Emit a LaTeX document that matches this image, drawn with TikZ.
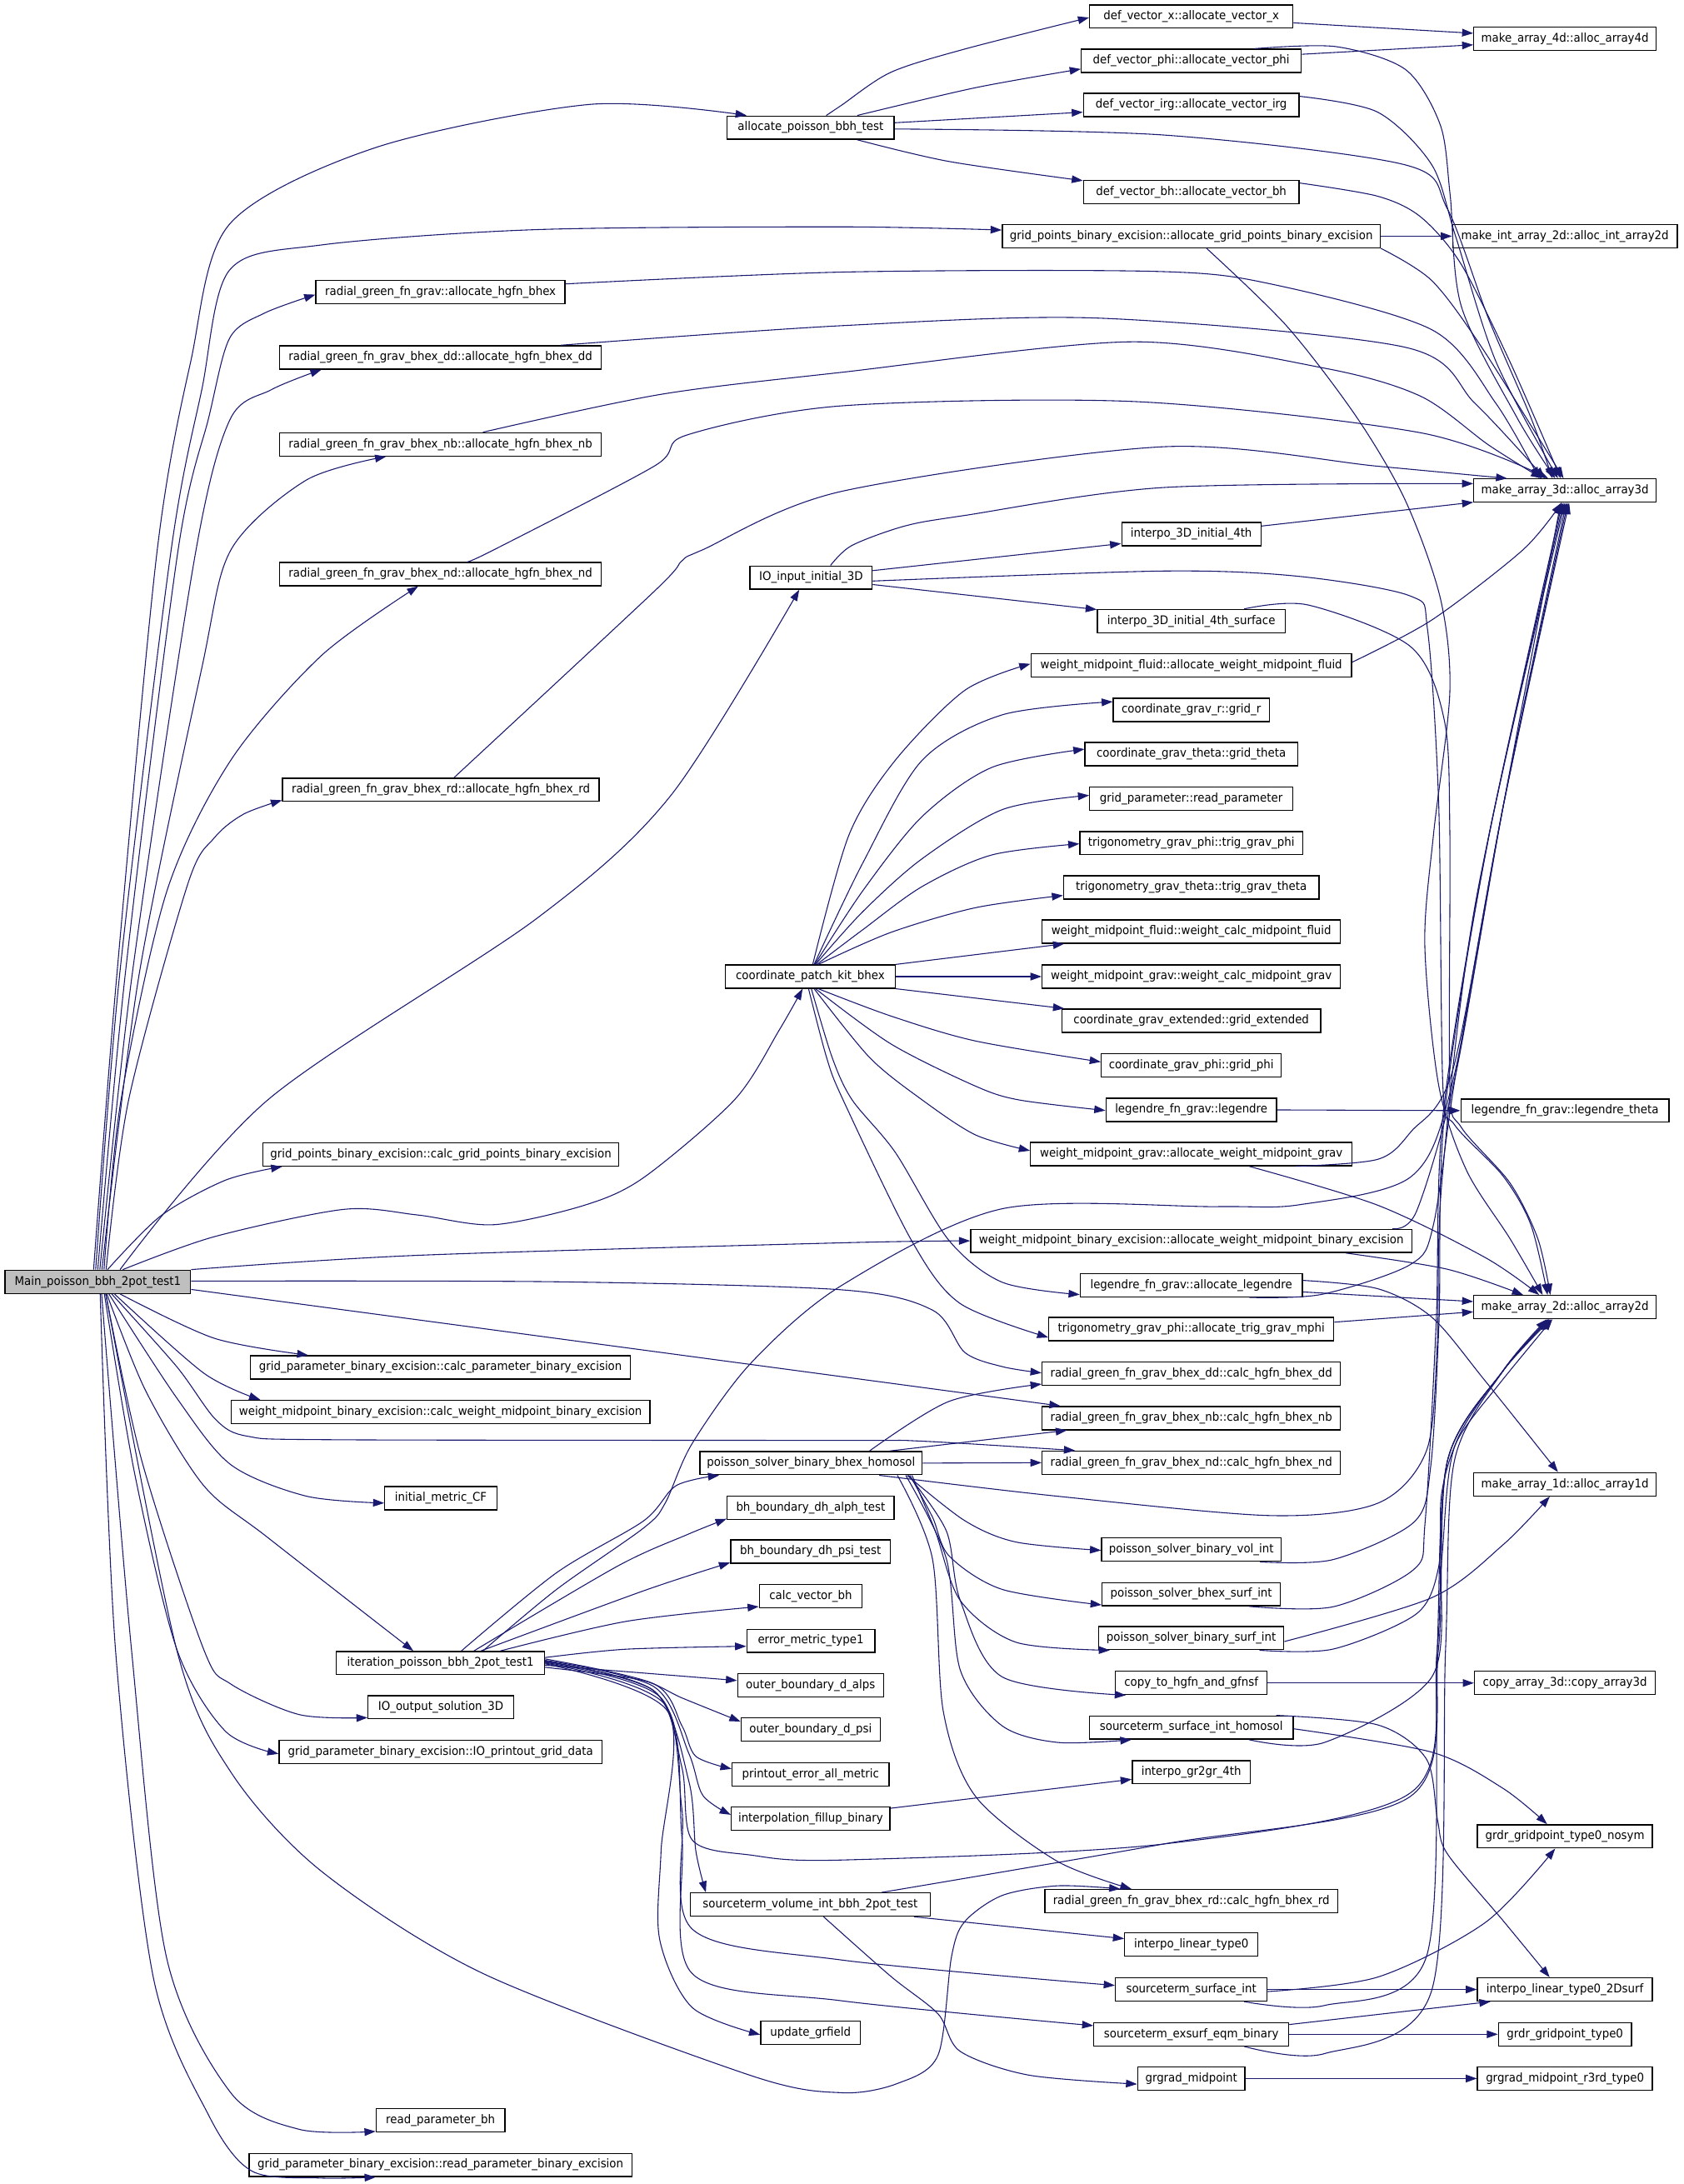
\documentclass[tikz,border=0pt]{standalone}
\usepackage{fontspec}
\setmainfont{DejaVu Sans}[FakeStretch=0.93]
\usetikzlibrary{arrows.meta}
\definecolor{edgec}{HTML}{191970}
\definecolor{mainfill}{HTML}{BFBFBF}
\begin{document}
\begin{tikzpicture}[x=1pt,y=-1pt,
  fn/.style={draw=black, fill=white, line width=0.8pt, minimum height=16.7pt, inner sep=0pt, font=\fontsize{8.6pt}{10pt}\selectfont, anchor=center},
  e/.style={draw=edgec, line width=0.65pt, -{Triangle[length=8pt,width=5.5pt]}}]
\useasboundingbox (0,0) rectangle (1210,1569.3);
% ---------- nodes ----------
\node[fn,fill=mainfill,minimum width=133.5pt] (main) at (70.25,921) {Main\_poisson\_bbh\_2pot\_test1};
% column 2
\node[fn,minimum width=179pt] (ra) at (316.5,210) {radial\_green\_fn\_grav::allocate\_hgfn\_bhex};
\node[fn,minimum width=231pt] (dda) at (316.5,256.8) {radial\_green\_fn\_grav\_bhex\_dd::allocate\_hgfn\_bhex\_dd};
\node[fn,minimum width=231pt] (nba) at (316.5,319.3) {radial\_green\_fn\_grav\_bhex\_nb::allocate\_hgfn\_bhex\_nb};
\node[fn,minimum width=231pt] (nda) at (316.5,412.5) {radial\_green\_fn\_grav\_bhex\_nd::allocate\_hgfn\_bhex\_nd};
\node[fn,minimum width=227.5pt] (rda) at (316.75,567.5) {radial\_green\_fn\_grav\_bhex\_rd::allocate\_hgfn\_bhex\_rd};
\node[fn,minimum width=255.5pt] (cgp) at (316.75,829.5) {grid\_points\_binary\_excision::calc\_grid\_points\_binary\_excision};
\node[fn,minimum width=273pt] (cpb) at (316.5,982.5) {grid\_parameter\_binary\_excision::calc\_parameter\_binary\_excision};
\node[fn,minimum width=301pt] (cwm) at (316.5,1014.5) {weight\_midpoint\_binary\_excision::calc\_weight\_midpoint\_binary\_excision};
\node[fn,minimum width=80.5pt] (imc) at (316.75,1076.5) {initial\_metric\_CF};
\node[fn,minimum width=149.6pt] (it) at (316.5,1195) {iteration\_poisson\_bbh\_2pot\_test1};
\node[fn,minimum width=104.5pt] (ioo) at (316.75,1226.7) {IO\_output\_solution\_3D};
\node[fn,minimum width=232pt] (iop) at (316.55,1258.7) {grid\_parameter\_binary\_excision::IO\_printout\_grid\_data};
\node[fn,minimum width=92.5pt] (rpb) at (316.55,1523.5) {read\_parameter\_bh};
\node[fn,minimum width=275pt] (rpe) at (316.5,1555.6) {grid\_parameter\_binary\_excision::read\_parameter\_binary\_excision};
% column 3
\node[fn,minimum width=120pt] (ap) at (582.5,91.7) {allocate\_poisson\_bbh\_test};
\node[fn,minimum width=87.7pt] (io) at (582.8,415) {IO\_input\_initial\_3D};
\node[fn,minimum width=122.3pt] (cp) at (582.2,701.7) {coordinate\_patch\_kit\_bhex};
\node[fn,minimum width=159.6pt] (ps) at (582.8,1051.3) {poisson\_solver\_binary\_bhex\_homosol};
\node[fn,minimum width=120pt] (bha) at (582.5,1083.3) {bh\_boundary\_dh\_alph\_test};
\node[fn,minimum width=114.8pt] (bhp) at (582.4,1114.8) {bh\_boundary\_dh\_psi\_test};
\node[fn,minimum width=73.8pt] (cvb) at (582.5,1147) {calc\_vector\_bh};
\node[fn,minimum width=92pt] (em) at (582.6,1179) {error\_metric\_type1};
\node[fn,minimum width=104.8pt] (oba) at (582.4,1211) {outer\_boundary\_d\_alps};
\node[fn,minimum width=100pt] (obp) at (582.5,1242.6) {outer\_boundary\_d\_psi};
\node[fn,minimum width=112.7pt] (pe) at (582.4,1274.9) {printout\_error\_all\_metric};
\node[fn,minimum width=114pt] (ifb) at (582.5,1306.6) {interpolation\_fillup\_binary};
\node[fn,minimum width=172.3pt] (sv) at (582.2,1368.5) {sourceterm\_volume\_int\_bbh\_2pot\_test};
\node[fn,minimum width=71.5pt] (ug) at (582.4,1460.5) {update\_grfield};
% column 4
\node[fn,minimum width=146pt] (dvx) at (856,11.9) {def\_vector\_x::allocate\_vector\_x};
\node[fn,minimum width=158pt] (dvp) at (856,43.7) {def\_vector\_phi::allocate\_vector\_phi};
\node[fn,minimum width=155pt] (dvi) at (856,75.5) {def\_vector\_irg::allocate\_vector\_irg};
\node[fn,minimum width=155pt] (dvb) at (856,138) {def\_vector\_bh::allocate\_vector\_bh};
\node[fn,minimum width=271.6pt] (gpa) at (856,169.7) {grid\_points\_binary\_excision::allocate\_grid\_points\_binary\_excision};
\node[fn,minimum width=100pt] (i4) at (856,383.8) {interpo\_3D\_initial\_4th};
\node[fn,minimum width=135pt] (i4s) at (856,446.3) {interpo\_3D\_initial\_4th\_surface};
\node[fn,minimum width=230.4pt] (wmf) at (856,478.2) {weight\_midpoint\_fluid::allocate\_weight\_midpoint\_fluid};
\node[fn,minimum width=112pt] (gr) at (856,510.1) {coordinate\_grav\_r::grid\_r};
\node[fn,minimum width=152.7pt] (gt) at (856,541.8) {coordinate\_grav\_theta::grid\_theta};
\node[fn,minimum width=146pt] (rp) at (856,574) {grid\_parameter::read\_parameter};
\node[fn,minimum width=160pt] (tp) at (856,605.8) {trigonometry\_grav\_phi::trig\_grav\_phi};
\node[fn,minimum width=183.5pt] (tt) at (856,637.7) {trigonometry\_grav\_theta::trig\_grav\_theta};
\node[fn,minimum width=214.3pt] (wcf) at (856,669.4) {weight\_midpoint\_fluid::weight\_calc\_midpoint\_fluid};
\node[fn,minimum width=214.3pt] (wcg) at (856,701.7) {weight\_midpoint\_grav::weight\_calc\_midpoint\_grav};
\node[fn,minimum width=185.8pt] (ge) at (856,733.4) {coordinate\_grav\_extended::grid\_extended};
\node[fn,minimum width=129.2pt] (gph) at (856,765.6) {coordinate\_grav\_phi::grid\_phi};
\node[fn,minimum width=122.6pt] (leg) at (856,797.5) {legendre\_fn\_grav::legendre};
\node[fn,minimum width=231pt] (wag) at (856,829.3) {weight\_midpoint\_grav::allocate\_weight\_midpoint\_grav};
\node[fn,minimum width=317pt] (wbe) at (856,891.6) {weight\_midpoint\_binary\_excision::allocate\_weight\_midpoint\_binary\_excision};
\node[fn,minimum width=159.5pt] (al) at (856,923.5) {legendre\_fn\_grav::allocate\_legendre};
\node[fn,minimum width=204.7pt] (tm) at (856,955) {trigonometry\_grav\_phi::allocate\_trig\_grav\_mphi};
\node[fn,minimum width=214.3pt] (ddc) at (856,987) {radial\_green\_fn\_grav\_bhex\_dd::calc\_hgfn\_bhex\_dd};
\node[fn,minimum width=214.3pt] (nbc) at (856,1019) {radial\_green\_fn\_grav\_bhex\_nb::calc\_hgfn\_bhex\_nb};
\node[fn,minimum width=214.3pt] (ndc) at (856,1051) {radial\_green\_fn\_grav\_bhex\_nd::calc\_hgfn\_bhex\_nd};
\node[fn,minimum width=128.8pt] (vi) at (856,1113.5) {poisson\_solver\_binary\_vol\_int};
\node[fn,minimum width=128pt] (bx) at (856,1145.5) {poisson\_solver\_bhex\_surf\_int};
\node[fn,minimum width=133pt] (bs) at (856,1177) {poisson\_solver\_binary\_surf\_int};
\node[fn,minimum width=109pt] (ct) at (856,1209.3) {copy\_to\_hgfn\_and\_gfnsf};
\node[fn,minimum width=146.4pt] (hs) at (856,1241.3) {sourceterm\_surface\_int\_homosol};
\node[fn,minimum width=84.8pt] (g2) at (856,1273.4) {interpo\_gr2gr\_4th};
\node[fn,minimum width=210.2pt] (rdc) at (856,1366) {radial\_green\_fn\_grav\_bhex\_rd::calc\_hgfn\_bhex\_rd};
\node[fn,minimum width=95.7pt] (ilt) at (856,1397.3) {interpo\_linear\_type0};
\node[fn,minimum width=109pt] (ss) at (856,1429.5) {sourceterm\_surface\_int};
\node[fn,minimum width=140pt] (ex) at (856,1461.7) {sourceterm\_exsurf\_eqm\_binary};
\node[fn,minimum width=77pt] (gm) at (856,1493.5) {grgrad\_midpoint};
% column 5
\node[fn,minimum width=131pt] (m4) at (1124.5,27.9) {make\_array\_4d::alloc\_array4d};
\node[fn,minimum width=161.5pt] (mi2) at (1124.5,169.7) {make\_int\_array\_2d::alloc\_int\_array2d};
\node[fn,minimum width=131pt] (m3) at (1124.5,352.5) {make\_array\_3d::alloc\_array3d};
\node[fn,minimum width=149.6pt] (lt) at (1124.5,798) {legendre\_fn\_grav::legendre\_theta};
\node[fn,minimum width=131pt] (m2) at (1124.5,939.2) {make\_array\_2d::alloc\_array2d};
\node[fn,minimum width=131pt] (m1) at (1124.5,1066.5) {make\_array\_1d::alloc\_array1d};
\node[fn,minimum width=130pt] (ca) at (1124.5,1209.3) {copy\_array\_3d::copy\_array3d};
\node[fn,minimum width=125.7pt] (ns) at (1124.5,1319.5) {grdr\_gridpoint\_type0\_nosym};
\node[fn,minimum width=125.7pt] (l2) at (1124.5,1429.5) {interpo\_linear\_type0\_2Dsurf};
\node[fn,minimum width=95.6pt] (g0) at (1124.5,1461.7) {grdr\_gridpoint\_type0};
\node[fn,minimum width=125.7pt] (r3) at (1124.5,1493.5) {grgrad\_midpoint\_r3rd\_type0};
% ---------- edges from Main ----------
\draw[e] plot[smooth] coordinates {([xshift=-3pt]main.north) (84,700) (113,395) (137,260) (165,161) (270,106) (424,75) ([xshift=-46pt]ap.north)};
\draw[e] plot[smooth] coordinates {([xshift=-1.5pt]main.north) (86,700) (123,395) (145,280) (165,194) (231,176) (385,165) (605,163) ([yshift=4.4pt]gpa.west)};
\draw[e] plot[smooth] coordinates {(main.north) (90,700) (128,395) (150,300) (165,243) (190,225) ([yshift=-1.7pt]ra.west)};
\draw[e] plot[smooth] coordinates {([xshift=1.5pt]main.north) (95,700) (140,400) (165,302) (195,280) ([xshift=-85.5pt]dda.south)};
\draw[e] plot[smooth] coordinates {([xshift=3pt]main.north) (100,700) (145,480) (166,395) (220,345) ([xshift=-39pt]nba.south)};
\draw[e] plot[smooth] coordinates {([xshift=4.5pt]main.north) (87,790) (120,640) (166,546) (231,471) ([xshift=-16pt]nda.south)};
\draw[e] plot[smooth] coordinates {([xshift=6pt]main.north) (92.5,790) (135,635) (154,602) (175,585) ([yshift=-7.5pt]rda.west)};
\draw[e] plot[smooth] coordinates {([xshift=16pt]main.north) (192.8,790) (385.6,660) (482,571.6) ([xshift=-8.5pt]io.south)};
\draw[e] plot[smooth] coordinates {([xshift=7pt]main.north) (115.6,873.6) (162,848) ([xshift=-114pt]cgp.south)};
\draw[e] plot[smooth] coordinates {([xshift=18pt]main.north) (154,888.6) (246.8,869) (300,873) (354.7,880) (420,866) (462.7,846) (528,790) (560,740) ([xshift=-5.5pt]cp.south)};
\draw[e] plot[smooth] coordinates {(main.north east) (300,902) (605,893) (wbe.west)};
\draw[e] plot[smooth] coordinates {([yshift=0.5pt]main.east) (400,921) (605,926.8) (670.3,941.5) (693.3,971.8) (720.3,982) ([yshift=0.5pt]ddc.west)};
\draw[e] ([yshift=-5.5pt]main.east) -- ([xshift=-94pt]nbc.north);
\draw[e] plot[smooth] coordinates {([xshift=10pt]main.south) (127,982) (155,1020) (178,1032) (240,1034.5) (605,1035) (662,1035.5) ([xshift=-83.5pt]ndc.north)};
\draw[e] plot[smooth] coordinates {([xshift=16pt]main.south) (154,961.6) ([xshift=-95pt]cpb.north)};
\draw[e] plot[smooth] coordinates {([xshift=12pt]main.south) (146.5,986.7) ([xshift=-129.5pt]cwm.north)};
\draw[e] plot[smooth] coordinates {([xshift=8pt]main.south) (127,1004.5) (165.8,1052.4) (220,1075) ([yshift=-3.5pt]imc.west)};
\draw[e] plot[smooth] coordinates {([xshift=6.5pt]main.south) (105,1000) (146.5,1067.6) (192.7,1105) ([xshift=-19.5pt]it.north)};
\draw[e] plot[smooth] coordinates {([xshift=5.75pt]main.south) (102,1050) (146.5,1185.5) (165.8,1210) (215,1232) ([yshift=-7.5pt]ioo.west)};
\draw[e] plot[smooth] coordinates {([xshift=4.75pt]main.south) (97,1060) (127.2,1185.5) (162,1244) ([yshift=-1.5pt]iop.west)};
\draw[e] plot[smooth] coordinates {([xshift=2.75pt]main.south) (94.5,1185.5) (119.5,1405.8) (165.8,1503.7) (215,1530) ([yshift=-8pt]rpb.west)};
\draw[e] plot[smooth] coordinates {([xshift=1.75pt]main.south) (83,1185.5) (110,1420) (150,1520) (181,1560) (230,1565) ([xshift=-46.5pt]rpe.south)};
\draw[e] plot[smooth] coordinates {([xshift=5.75pt]main.south) (127,1185.5) (166,1273.5) (231,1344.6) (347,1418) (540,1491.5) (605,1503.7) (645,1497) (674,1476.8) (683.7,1406) (693,1381) (720,1362) (760,1355) ([xshift=-51pt]rdc.north)};
% ---------- allocate_poisson_bbh_test ----------
\draw[e] plot[smooth] coordinates {([xshift=11.2pt]ap.north) (604.7,75.6) (640,52) (693,35.3) ([yshift=-0.7pt]dvx.west)};
\draw[e] plot[smooth] coordinates {([xshift=33.5pt]ap.north) (701,63) ([yshift=-5.9pt]dvp.west)};
\draw[e] ([yshift=3.5pt]ap.east) -- ([yshift=-5.1pt]dvi.west);
\draw[e] plot[smooth] coordinates {([yshift=-1pt]ap.east) (836,97) (1009.5,118.4) (1040,150) (1070,230) (1100,300) ([xshift=-9pt]m3.north)};
\draw[e] plot[smooth] coordinates {([xshift=33.5pt]ap.south) (681.8,116) ([yshift=8.2pt]dvb.west)};
\draw[e] ([yshift=-4.5pt]dvx.east) -- ([yshift=4pt]m4.west);
\draw[e] ([yshift=4.7pt]dvp.east) -- ([yshift=-4.3pt]m4.west);
\draw[e] plot[smooth] coordinates {([xshift=45.6pt]dvp.north) (960,33.5) (1010,50) (1035,90) (1042,140) (1050,220) (1090,300) ([xshift=-7pt]m3.north)};
\draw[e] plot[smooth] coordinates {([yshift=6.3pt]dvi.east) (990,80.6) (1028.8,118.4) (1046,170) (1075,260) ([xshift=-5pt]m3.north)};
\draw[e] plot[smooth] coordinates {([yshift=6.5pt]dvb.east) (990,141) (1021,156) (1050,190) (1085,260) ([xshift=-3pt]m3.north)};
\draw[e] (gpa.east) -- (mi2.west);
\draw[e] plot[smooth] coordinates {(gpa.south east) (1028.8,201.6) (1065,250) ([xshift=-1pt]m3.north)};
\draw[e] plot[smooth] coordinates {([xshift=11pt]gpa.south) (924.7,234.4) (975,300) (1010,360) (1035,430) (1041.8,497) (1030,600) (1023.8,679) (1033.8,780) (1053.8,841) (1085,890) ([xshift=-16pt]m2.north)};
% ---------- radial allocators -> make_array_3d ----------
\draw[e] plot[smooth] coordinates {([yshift=6pt]ra.east) (605,195.5) (830,195) (913,204) (1029,237) (1075,290) ([xshift=-18.5pt]m3.north)};
\draw[e] plot[smooth] coordinates {([xshift=86.5pt]dda.north) (605,234) (790,228.6) (1009.6,249.5) (1060,290) ([xshift=-14.5pt]m3.north)};
\draw[e] plot[smooth] coordinates {([xshift=30.5pt]nba.north) (474,283.5) (605,267.5) (813,245.6) (952,264.6) (1021,284.8) (1070,320) ([xshift=-16.5pt]m3.north)};
\draw[e] plot[smooth] coordinates {([xshift=19pt]nda.north) (355,395) (470,335) (493.5,312.6) (605,291.6) (816.8,288.6) (1021,311) ([xshift=-12pt]m3.north)};
\draw[e] plot[smooth] coordinates {([xshift=9.5pt]rda.north) (470,425) (490,403) (505,395) (605,353) (836,321) (990,335) ([xshift=-41.5pt]m3.north)};
% ---------- IO_input_initial_3D ----------
\draw[e] plot[smooth] coordinates {([xshift=14pt]io.north) (612,392) (650,378) (693,370.4) (836,350.3) ([yshift=5pt]m3.west)};
\draw[e] ([yshift=5pt]io.east) -- ([yshift=-6.8pt]i4.west);
\draw[e] ([yshift=-5pt]io.east) -- ([yshift=8.3pt]i4s.west);
\draw[e] plot[smooth] coordinates {([yshift=-2.5pt]io.east) (836,410.3) (934,414.2) (1013.8,428.4) (1025.8,452.7) (1033.8,578.2) (1036.8,780.6) (1045,808) (1080,845) (1100,880) ([xshift=-12.5pt]m2.north)};
\draw[e] ([yshift=5.8pt]i4.east) -- ([yshift=-8.4pt]m3.west);
\draw[e] plot[smooth] coordinates {([xshift=38pt]i4s.north) (940,434.7) (1013.8,464.8) (1037.8,517.5) (1041.8,598.4) (1041.8,780.6) (1050,810) (1085,850) (1105,890) ([xshift=-10.5pt]m2.north)};
\draw[e] plot[smooth] coordinates {([yshift=2.4pt]wmf.east) (1028.8,445.5) (1094.4,395) ([xshift=-2.5pt]m3.south)};
% ---------- coordinate_patch_kit_bhex ----------
\draw[e] plot[smooth] coordinates {([xshift=1.8pt]cp.north) (610,600) (643.3,546.3) (693.3,496) ([yshift=1.2pt]wmf.west)};
\draw[e] plot[smooth] coordinates {([xshift=2.8pt]cp.north) (620,620) (662.6,546.3) (720.3,513.6) ([yshift=5.9pt]gr.west)};
\draw[e] plot[smooth] coordinates {([xshift=3.3pt]cp.north) (620,640) (662.6,586.7) (712.7,551.4) ([yshift=3.5pt]gt.west)};
\draw[e] plot[smooth] coordinates {([xshift=3.8pt]cp.north) (620,655) (662.6,617) (720.3,581.7) ([yshift=2.5pt]rp.west)};
\draw[e] plot[smooth] coordinates {([xshift=4.8pt]cp.north) (620,668) (662.6,637) (712.7,614.3) ([yshift=-0.5pt]tp.west)};
\draw[e] plot[smooth] coordinates {([xshift=5.8pt]cp.north) (640,670) (701,652.2) ([yshift=-5.7pt]tt.west)};
\draw[e] (cp.north east) -- ([xshift=-91.3pt]wcf.south);
\draw[e] (cp.east) -- (wcg.west);
\draw[e] (cp.south east) -- ([xshift=-91.3pt]ge.north);
\draw[e] plot[smooth] coordinates {([xshift=5.8pt]cp.south) (640,730) (701,748) ([yshift=2.6pt]gph.west)};
\draw[e] plot[smooth] coordinates {([xshift=3.8pt]cp.south) (640,750) (700,780) (732,790.3) ([yshift=-0.4pt]leg.west)};
\draw[e] plot[smooth] coordinates {([xshift=2.8pt]cp.south) (625,760) (662.6,790.3) (701,815.5) ([yshift=2.5pt]wag.west)};
\draw[e] plot[smooth] coordinates {([xshift=0.8pt]cp.south) (598,760) (612.3,790.3) (643.3,828) (681.8,891.2) (720.3,921.4) ([yshift=-6.7pt]al.west)};
\draw[e] plot[smooth] coordinates {([xshift=-1.2pt]cp.south) (594,760) (605.8,790.3) (654.8,891) (689.6,936.4) ([yshift=-6pt]tm.west)};
% ---------- middle column 4 -> column 5 ----------
\draw[e] (leg.east) -- (lt.west);
\draw[e] plot[smooth] coordinates {([xshift=-41pt]wag.south east) (990,833) (1014,813) (1044,768.5) (1080,580) ([xshift=2pt]m3.south)};
\draw[e] plot[smooth] coordinates {([xshift=41.6pt]wag.south) (990,866) (1067.4,903.7) ([xshift=-18.5pt]m2.north)};
\draw[e] plot[smooth] coordinates {([xshift=-14.5pt]wbe.north east) (1018,870) (1046,772) (1080,580) ([xshift=3pt]m3.south)};
\draw[e] plot[smooth] coordinates {([xshift=111pt]wbe.south) (1040,912) ([xshift=-30pt]m2.north)};
\draw[e] plot[smooth] coordinates {([xshift=41.7pt]al.south) (950,930) (1013.6,908.5) (1030,880) (1046,772) (1080,580) ([xshift=1pt]m3.south)};
\draw[e] ([yshift=-4.8pt]al.east) -- ([yshift=4pt]m2.west);
\draw[e] plot[smooth] coordinates {([yshift=3.5pt]al.east) (990,926) (1029,946.6) (1067,992) ([xshift=-5pt]m1.north)};
\draw[e] ([yshift=5pt]tm.east) -- ([yshift=-3.4pt]m2.west);
% ---------- poisson_solver_binary_bhex_homosol ----------
\draw[e] plot[smooth] coordinates {([xshift=42pt]ps.north) (681.8,1007) ([yshift=-7.5pt]ddc.west)};
\draw[e] ([xshift=56.6pt]ps.north) -- ([xshift=-89.4pt]nbc.south);
\draw[e] (ps.east) -- (ndc.west);
\draw[e] plot[smooth] coordinates {([xshift=49pt]ps.south) (759,1075) (913,1089) (990.3,1080) (1025,1042.4) (1032.7,966.7) (1036,850) (1060,650) ([xshift=-2pt]m3.south)};
\draw[e] plot[smooth] coordinates {([xshift=69pt]ps.south) (693.3,1092.7) (730,1108) ([yshift=-0.5pt]vi.west)};
\draw[e] plot[smooth] coordinates {([xshift=71pt]ps.south) (670,1090) (682,1118) (720,1142) ([yshift=-7.7pt]bx.west)};
\draw[e] plot[smooth] coordinates {([xshift=72.5pt]ps.south) (672,1100) (690,1150) (730,1180) ([xshift=-58.5pt]bs.south)};
\draw[e] plot[smooth] coordinates {([xshift=70pt]ps.south) (680,1100) (690,1150) (720.3,1205) ([xshift=-47pt]ct.south)};
\draw[e] plot[smooth] coordinates {([xshift=68pt]ps.south) (680,1120) (690,1200) (720,1240) (760,1252) ([xshift=-43pt]hs.south)};
\draw[e] plot[smooth] coordinates {([xshift=62pt]ps.south) (670,1120) (677.8,1229.6) (701,1290.8) (759,1337) ([xshift=-43pt]rdc.north)};
% ---------- lower column 4 -> column 5 ----------
\draw[e] plot[smooth] coordinates {([xshift=49.3pt]vi.south) (958,1120.6) (1016,1093.7) (1028,1054) (1034,950) (1038,800) (1070,600) ([xshift=-1pt]m3.south)};
\draw[e] plot[smooth] coordinates {([xshift=41.5pt]bx.south) (958,1154.5) (1016,1127.6) (1024,1094) (1032,950) (1037,800) (1070,600) (m3.south)};
\draw[e] plot[smooth] coordinates {([yshift=-2.5pt]bs.east) (1028.8,1148) (1080,1110) ([xshift=-10.9pt]m1.south)};
\draw[e] plot[smooth] coordinates {([xshift=49pt]bs.south) (958,1184.9) (1017.8,1159.6) (1033.8,1125.6) (1035.8,1073.7) (1047.8,1033.8) (1077.7,993.9) ([xshift=-9pt]m2.south)};
\draw[e] (ct.east) -- (ca.west);
\draw[e] plot[smooth] coordinates {([xshift=41.5pt]hs.south) (951.7,1252) (1028.8,1205) (1036,1120) (1045,1040) (1080,985) ([xshift=-10pt]m2.south)};
\draw[e] plot[smooth] coordinates {([yshift=-0.9pt]hs.east) (1028.8,1259) (1080,1285) ([xshift=-12.8pt]ns.north)};
\draw[e] plot[smooth] coordinates {([xshift=61pt]hs.north) (990,1239.4) (1025,1264) (1033,1308) (1040,1332) (1080,1380) ([xshift=-11pt]l2.north)};
\draw[e] ([yshift=7.3pt]ifb.east) -- ([yshift=-5.1pt]g2.west);
\draw[e] plot[smooth] coordinates {([xshift=51.4pt]sv.north) (836,1325) (1013.4,1290.8) (1033.6,1185) (1040,1050) (1080,985) ([xshift=-11pt]m2.south)};
\draw[e] ([xshift=74.6pt]sv.south) -- ([yshift=4.3pt]ilt.west);
\draw[e] plot[smooth] coordinates {([xshift=9.6pt]sv.south) (640,1420) (674,1447) (690,1474) (739,1491) ([yshift=-4pt]gm.west)};
\draw[e] plot[smooth] coordinates {([yshift=-1.5pt]ss.east) (990.3,1420.5) (1067.4,1381.3) ([xshift=-7pt]ns.south)};
\draw[e] (ss.east) -- (l2.west);
\draw[e] plot[smooth] coordinates {([xshift=38pt]ss.south) (951.7,1441) (1025,1405.8) (1032.7,1185.5) (1040,1050) (1080,985) ([xshift=-12pt]m2.south)};
\draw[e] ([yshift=7pt]ex.east) -- ([xshift=-53.5pt]l2.south);
\draw[e] (ex.east) -- (g0.west);
\draw[e] plot[smooth] coordinates {([xshift=38pt]ex.south) (951.7,1475.6) (1028.8,1430) (1038.7,1185.5) (1045,1050) (1080,985) ([xshift=-13pt]m2.south)};
\draw[e] (gm.east) -- (r3.west);
% ---------- iteration_poisson_bbh_2pot_test1 ----------
\draw[e] plot[smooth] coordinates {([xshift=30.5pt]it.north) (400,1142) (462.6,1097.8) (478,1080) (497.3,1037.3) (539.7,979.3) (604.5,923.8) (720.3,868.5) (874.5,867) (934,865.6) (1014,845.4) (1044,776.6) (1080,580) ([xshift=-3pt]m3.south)};
\draw[e] plot[smooth] coordinates {([xshift=15pt]it.north) (400,1130) (462.6,1092.7) (485.8,1067.5) ([xshift=-66pt]ps.south)};
\draw[e] plot[smooth] coordinates {([xshift=24pt]it.north) (443.4,1125.5) (493.5,1102.8) ([yshift=-8pt]bha.west)};
\draw[e] plot[smooth] coordinates {([xshift=29pt]it.north) (462.6,1143) ([yshift=-8pt]bhp.west)};
\draw[e] plot[smooth] coordinates {([xshift=43pt]it.north) (450,1165) ([yshift=-7.4pt]cvb.west)};
\draw[e] plot[smooth] coordinates {([yshift=4pt]it.east) (450,1185) ([yshift=-3.9pt]em.west)};
\draw[e] ([yshift=-1.5pt]it.east) -- ([yshift=3.5pt]oba.west);
\draw[e] plot[smooth] coordinates {([yshift=-3pt]it.east) (460,1207) (490,1220) ([yshift=5.6pt]obp.west)};
\draw[e] plot[smooth] coordinates {([yshift=3pt]it.east) (470,1210) (490,1240) (500,1262) ([yshift=3.9pt]pe.west)};
\draw[e] plot[smooth] coordinates {([yshift=2pt]it.east) (470,1212) (495,1260) (505,1290) ([yshift=2.6pt]ifb.west)};
\draw[e] plot[smooth] coordinates {([yshift=1.5pt]it.east) (470,1215) (490,1270) (497.3,1322) (540,1333) (604.5,1336.5) (836,1325) (1013.4,1288.3) (1032.7,1185.5) (1040,1050) (1080,985) ([xshift=-11.5pt]m2.south)};
\draw[e] plot[smooth] coordinates {([yshift=1pt]it.east) (470,1215) (495,1280) (500,1330) ([xshift=-75pt]sv.north)};
\draw[e] plot[smooth] coordinates {([yshift=0.5pt]it.east) (475,1220) (490,1300) (497.3,1386) (604.5,1408.3) ([yshift=2.9pt]ss.west)};
\draw[e] plot[smooth] coordinates {(it.east) (478,1225) (490,1320) (497.3,1418) (604.5,1437.6) ([yshift=6.2pt]ex.west)};
\draw[e] plot[smooth] coordinates {([yshift=-0.5pt]it.east) (480,1230) (475,1330) (474,1393.5) (497.3,1442.4) ([yshift=-1.5pt]ug.west)};
\end{tikzpicture}
\end{document}
